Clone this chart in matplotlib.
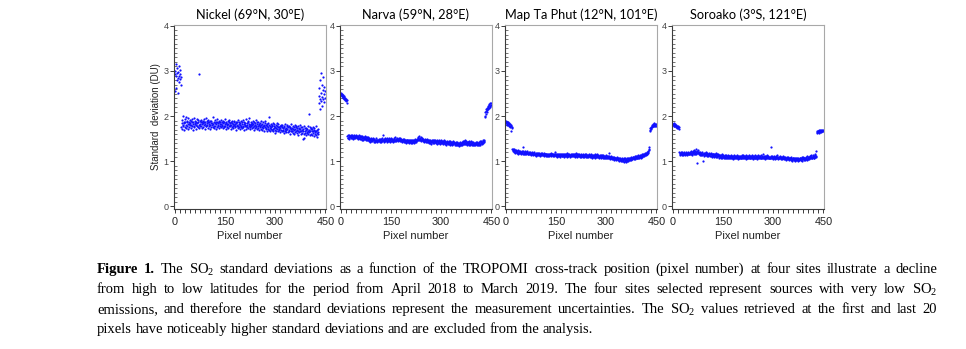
import numpy as np
import matplotlib
matplotlib.use("Agg")
import matplotlib.pyplot as plt
from matplotlib.ticker import MultipleLocator

plt.rcParams['mathtext.fontset'] = 'custom'
plt.rcParams['mathtext.rm'] = 'Liberation Serif'
plt.rcParams['mathtext.bf'] = 'Liberation Serif:bold'

# ---------------------------------------------------------------- data
sites = ["Nickel (69°N, 30°E)", "Narva (59°N, 28°E)",
         "Map Ta Phut (12°N, 101°E)", "Soroako (3°S, 121°E)"]
x_ticks = [0, 150, 300, 450]
y_ticks = [0, 1, 2, 3, 4]

# SO2 standard deviation per cross-track pixel 0..449, in units of 0.01 DU
nickel = [
    293, 255, 301, 288, 315, 262, 296, 279, 307, 284, 252, 298, 289, 311, 276, 303, 282, 294, 270, 287,
    176, 185, 172, 191, 180, 200, 178, 186, 169, 184, 193, 175, 188, 181, 197, 173, 186, 179, 190, 183,
    171, 195, 182, 187, 176, 192, 180, 185, 174, 189,
    181, 194, 177, 186, 170, 188, 183, 179, 196, 175, 185, 182, 190, 172, 187, 180, 193, 178, 184, 188,
    176, 191, 181, 293, 173, 189, 183, 179, 186, 192,
    178, 187, 182, 174, 190, 184, 176, 193, 180, 186, 171, 188, 183, 179, 195, 177, 185, 181, 189, 174,
    186, 192, 178, 183, 187, 172, 190, 181, 176, 184,
    189, 180, 185, 175, 198, 182, 177, 187, 173, 184, 191, 179, 186, 171, 183, 188, 176, 194, 181, 185,
    178, 190, 174, 186, 182, 179, 187, 175, 192, 183,
    177, 186, 181, 190, 173, 184, 179, 188, 175, 182, 193, 178, 185, 171, 187, 180, 183, 176, 189, 182,
    174, 186, 179, 191, 177, 184, 180, 172, 187, 181,
    185, 176, 189, 179, 183, 173, 190, 181, 186, 175, 182, 178, 188, 170, 184, 180, 177, 186, 174, 191,
    179, 183, 176, 187, 172, 181, 185, 178, 189, 175,
    182, 174, 186, 179, 191, 176, 183, 170, 188, 180, 177, 185, 172, 193, 179, 184, 175, 181, 189, 173,
    186, 178, 182, 195, 176, 180, 171, 187, 183, 177,
    185, 174, 180, 189, 176, 183, 170, 187, 179, 173, 184, 181, 192, 175, 178, 186, 171, 182, 177, 188,
    174, 180, 183, 169, 185, 178, 176, 190, 172, 181,
    176, 183, 170, 179, 186, 173, 181, 168, 177, 184, 175, 189, 171, 180, 174, 182, 166, 178, 185, 172,
    176, 198, 169, 181, 174, 179, 167, 183, 175, 171,
    180, 169, 177, 184, 172, 166, 179, 174, 183, 170, 176, 163, 181, 173, 168, 178, 185, 171, 175, 167,
    182, 169, 176, 172, 179, 164, 174, 180, 170, 177,
    168, 175, 181, 166, 173, 170, 178, 162, 176, 171, 167, 183, 174, 169, 165, 177, 172, 180, 164, 175,
    170, 167, 179, 173, 161, 176, 168, 182, 171, 166,
    174, 167, 179, 163, 171, 176, 160, 169, 181, 172, 165, 175, 168, 178, 162, 173, 170, 166, 177, 159,
    171, 174, 164, 180, 168, 172, 161, 176, 167, 170,
    163, 175, 149, 168, 171, 160, 177, 152, 166, 173, 162, 169, 158, 174, 165, 171, 163, 179, 167, 160,
    204, 170, 164, 176, 159, 168, 172, 161, 174, 166,
    171, 158, 166, 175, 162, 169, 155, 173, 164, 167, 160, 178, 157, 168, 163, 170, 153, 165, 172, 161,
    245, 228, 262, 238, 281, 216, 252, 295, 234, 270, 243, 223, 258, 239, 286, 248, 231, 265, 241, 255,
]

narva = [
    251, 247, 249, 244, 250, 245, 242, 247, 240, 244, 238, 243, 239, 236, 241, 235, 238, 233, 236, 229,
    155, 152, 157, 151, 154, 158, 150, 155, 153, 156, 152, 157, 154, 151, 155, 158, 153, 150, 156, 154,
    152, 157, 155, 151, 154, 156, 153, 158, 152, 155,
    153, 156, 150, 154, 152, 157, 151, 155, 149, 153, 156, 150, 154, 152, 148, 155, 151, 153, 147, 154,
    150, 152, 156, 149, 151, 153, 146, 150, 154, 148,
    151, 147, 153, 149, 145, 150, 152, 146, 149, 143, 151, 147, 145, 150, 148, 144, 152, 146, 149, 143,
    147, 150, 145, 148, 142, 146, 151, 144, 148, 146,
    143, 148, 145, 150, 144, 147, 142, 149, 146, 143, 150, 145, 148, 144, 151, 146, 158, 147, 143, 149,
    145, 152, 147, 144, 150, 146, 148, 143, 151, 145,
    149, 144, 147, 151, 145, 148, 143, 150, 146, 149, 144, 152, 147, 145, 150, 143, 148, 146, 151, 144,
    149, 147, 153, 145, 148, 144, 150, 146, 149, 152,
    147, 150, 145, 148, 152, 146, 149, 144, 151, 147, 145, 150, 143, 148, 146, 149, 144, 147, 142, 146,
    149, 143, 147, 145, 141, 148, 144, 146, 142, 147,
    143, 147, 144, 141, 146, 143, 148, 142, 145, 140, 147, 144, 142, 146, 141, 145, 143, 148, 140, 144,
    146, 142, 149, 145, 143, 147, 144, 150, 146, 148,
    151, 147, 153, 149, 155, 148, 152, 146, 150, 147, 153, 145, 149, 146, 151, 144, 148, 150, 145, 147,
    143, 149, 146, 144, 148, 142, 146, 149, 143, 147,
    145, 142, 147, 143, 140, 146, 144, 141, 148, 143, 145, 139, 146, 142, 144, 147, 141, 143, 145, 140,
    146, 142, 144, 148, 141, 145, 143, 139, 144, 146,
    142, 145, 140, 144, 141, 147, 143, 139, 145, 142, 146, 140, 143, 141, 145, 138, 144, 142, 140, 146,
    143, 139, 142, 145, 141, 137, 143, 140, 144, 141,
    139, 143, 140, 145, 138, 142, 141, 137, 144, 140, 142, 138, 143, 139, 136, 141, 144, 138, 140, 142,
    137, 141, 139, 143, 135, 140, 138, 142, 136, 139,
    141, 137, 140, 134, 139, 142, 136, 138, 141, 135, 139, 143, 137, 140, 138, 145, 142, 139, 144, 141,
    143, 138, 146, 140, 144, 139, 142, 137, 141, 143,
    139, 143, 137, 141, 145, 138, 142, 136, 140, 144, 138, 141, 137, 143, 139, 135, 142, 138, 140, 136,
    141, 139, 137, 143, 138, 140, 135, 139, 142, 137,
    140, 138, 143, 136, 141, 139, 144, 137, 142, 140, 145, 138, 143, 141, 146, 140, 144, 142, 147, 145,
    201, 208, 199, 212, 205, 215, 210, 218, 213, 222, 216, 220, 224, 218, 226, 221, 228, 223, 225, 229,
]

map_ta_phut = [
    190, 185, 188, 183, 187, 181, 186, 184, 180, 185, 182, 178, 183, 179, 176, 181, 167, 177, 174, 176,
    128, 125, 122, 127, 124, 121, 126, 123, 119, 125, 122, 120, 124, 118, 123, 121, 119, 124, 117, 122,
    120, 118, 123, 119, 121, 116, 120, 118, 122, 119,
    121, 117, 123, 131, 118, 120, 116, 122, 119, 117, 121, 115, 119, 122, 118, 120, 116, 119, 117, 121,
    115, 118, 120, 116, 119, 117, 114, 118, 121, 116,
    118, 115, 119, 113, 117, 116, 120, 114, 117, 115, 119, 112, 116, 118, 114, 117, 115, 119, 113, 116,
    118, 114, 117, 111, 115, 118, 113, 116, 119, 114,
    116, 113, 117, 114, 112, 118, 115, 113, 116, 111, 115, 117, 112, 114, 116, 113, 115, 111, 117, 114,
    112, 116, 113, 115, 118, 112, 114, 116, 113, 115,
    113, 116, 112, 114, 117, 111, 115, 113, 121, 114, 112, 116, 113, 110, 115, 112, 114, 117, 111, 113,
    115, 112, 116, 110, 114, 113, 117, 111, 115, 112,
    114, 111, 116, 113, 110, 115, 112, 117, 113, 111, 116, 114, 110, 113, 118, 112, 115, 111, 114, 113,
    116, 110, 114, 112, 117, 113, 111, 115, 112, 114,
    116, 112, 114, 111, 117, 113, 110, 115, 112, 118, 114, 111, 116, 113, 109, 114, 112, 115, 111, 113,
    116, 110, 114, 112, 109, 115, 113, 111, 114, 112,
    113, 110, 115, 112, 109, 114, 111, 116, 113, 110, 112, 115, 109, 113, 111, 114, 110, 112, 116, 111,
    113, 109, 114, 112, 110, 115, 111, 113, 108, 112,
    111, 114, 109, 113, 110, 112, 115, 108, 111, 113, 110, 114, 109, 112, 116, 110, 113, 111, 108, 112,
    110, 114, 109, 111, 113, 107, 112, 110, 114, 109,
    111, 108, 113, 110, 106, 112, 109, 111, 107, 110, 113, 108, 111, 109, 106, 112, 108, 110, 118, 107,
    111, 109, 105, 110, 108, 112, 106, 109, 107, 104,
    108, 105, 110, 106, 103, 109, 107, 104, 108, 105, 102, 107, 104, 109, 106, 103, 105, 108, 101, 106,
    104, 107, 102, 105, 103, 100, 106, 104, 101, 105,
    103, 100, 106, 99, 104, 102, 107, 101, 98, 105, 103, 100, 108, 102, 104, 101, 106, 103, 107, 104,
    102, 108, 105, 103, 109, 106, 104, 108, 105, 110,
    107, 110, 105, 109, 106, 111, 108, 104, 110, 107, 112, 108, 106, 111, 109, 107, 113, 110, 108, 112,
    109, 114, 111, 108, 113, 110, 115, 112, 109, 114,
    112, 116, 113, 111, 117, 114, 118, 115, 113, 119, 116, 120, 117, 115, 121, 119, 123, 127, 125, 132,
    170, 168, 174, 171, 176, 173, 178, 175, 180, 177, 182, 178, 184, 179, 181, 177, 183, 180, 178, 182,
]

soroako = [
    183, 180, 182, 178, 184, 179, 181, 177, 182, 176, 180, 178, 175, 179, 174, 177, 173, 176, 172, 175,
    121, 116, 119, 114, 118, 121, 115, 117, 113, 120, 116, 118, 114, 119, 116, 121, 115, 117, 113, 118,
    116, 120, 114, 117, 119, 115, 118, 121, 116, 119,
    117, 120, 115, 118, 122, 116, 119, 114, 121, 117, 120, 123, 118, 115, 121, 125, 119, 122, 117, 120,
    127, 116, 123, 119, 96, 121, 118, 124, 115, 120,
    118, 114, 117, 121, 115, 119, 113, 116, 120, 114, 100, 117, 115, 119, 112, 116, 118, 113, 117, 114,
    120, 115, 112, 116, 118, 113, 117, 111, 115, 119,
    114, 117, 112, 115, 118, 111, 116, 113, 110, 115, 117, 112, 114, 109, 116, 113, 111, 115, 118, 110,
    114, 112, 116, 109, 113, 111, 117, 112, 108, 114,
    112, 109, 114, 110, 113, 107, 111, 115, 108, 112, 110, 114, 106, 111, 109, 113, 107, 110, 112, 108,
    114, 109, 111, 106, 113, 110, 108, 112, 107, 111,
    109, 112, 107, 111, 108, 113, 106, 110, 112, 108, 111, 105, 109, 113, 107, 110, 108, 112, 106, 111,
    109, 107, 113, 110, 105, 109, 112, 108, 111, 107,
    110, 107, 112, 108, 111, 106, 113, 109, 107, 111, 114, 108, 110, 106, 112, 109, 107, 111, 105, 110,
    113, 108, 111, 107, 109, 112, 106, 110, 108, 113,
    108, 111, 106, 112, 109, 107, 114, 110, 108, 111, 105, 109, 112, 107, 110, 108, 113, 106, 111, 109,
    107, 112, 110, 105, 109, 113, 108, 111, 106, 110,
    112, 107, 110, 108, 113, 106, 109, 111, 107, 115, 108, 110, 106, 112, 109, 107, 111, 105, 109, 112,
    108, 106, 110, 113, 107, 109, 111, 106, 108, 110,
    107, 110, 108, 112, 106, 131, 109, 107, 111, 105, 108, 110, 106, 112, 109, 107, 104, 110, 108, 111,
    106, 109, 107, 113, 105, 108, 110, 106, 109, 107,
    109, 106, 111, 107, 104, 110, 108, 105, 109, 112, 106, 108, 104, 110, 107, 105, 109, 106, 103, 108,
    110, 105, 107, 104, 109, 106, 102, 108, 105, 107,
    104, 107, 102, 106, 109, 103, 105, 101, 107, 104, 106, 102, 108, 105, 103, 100, 106, 104, 107, 102,
    105, 103, 108, 101, 104, 106, 102, 105, 103, 107,
    104, 108, 102, 106, 103, 109, 105, 101, 107, 104, 110, 106, 103, 108, 105, 102, 107, 104, 109, 106,
    103, 111, 105, 108, 104, 110, 106, 109, 105, 112,
    107, 111, 106, 109, 113, 108, 110, 106, 112, 109, 114, 107, 111, 108, 115, 110, 113, 109, 122, 112,
    162, 166, 164, 168, 165, 167, 163, 169, 166, 168, 164, 170, 167, 165, 169, 166, 168, 170, 167, 169,
]

series = [nickel, narva, map_ta_phut, soroako]
pixels = np.arange(len(nickel))

caption_lines = [
    ["**Figure", "**1.", "The", "SO$_\\mathrm{2}$", "standard", "deviations", "as", "a", "function",
     "of", "the", "TROPOMI", "cross-track", "position", "(pixel", "number)", "at", "four", "sites",
     "illustrate", "a", "decline"],
    ["from", "high", "to", "low", "latitudes", "for", "the", "period", "from", "April", "2018", "to",
     "March", "2019.", "The", "four", "sites", "selected", "represent", "sources", "with", "very",
     "low", "SO$_\\mathrm{2}$"],
    ["emissions,", "and", "therefore", "the", "standard", "deviations", "represent", "the",
     "measurement", "uncertainties.", "The", "SO$_\\mathrm{2}$", "values", "retrieved", "at", "the",
     "first", "and", "last", "20"],
    ["pixels", "have", "noticeably", "higher", "standard", "deviations", "and", "are", "excluded",
     "from", "the", "analysis."],
]

# ---------------------------------------------------------------- figure
W, H = 966, 349
fig = plt.figure(figsize=(W / 100, H / 100), dpi=100)
fig.patch.set_facecolor("white")

panel_left = [174, 340, 505, 672]
panel_w = 152
panel_top, panel_bottom = 25, 209

dark = "#3c3c3c"
grey = "#a8a8a8"

for i, (name, vals) in enumerate(zip(sites, series)):
    ax = fig.add_axes([panel_left[i] / W, 1 - panel_bottom / H,
                       panel_w / W, (panel_bottom - panel_top) / H])
    ax.plot(pixels, np.array(vals) / 100.0, linestyle="none", marker="o",
            markersize=1.6, markeredgewidth=0, color="#1010ff")
    ax.set_xlim(-2, 452)
    ax.set_ylim(-0.06, 4.02)
    ax.set_xticks(x_ticks)
    ax.set_yticks(y_ticks)
    ax.xaxis.set_minor_locator(MultipleLocator(15))
    ax.yaxis.set_minor_locator(MultipleLocator(0.1))
    ax.tick_params(axis="x", which="both", direction="out", length=3, width=0.7,
                   color=dark, labelsize=7.8, labelcolor="#222222", pad=2.5)
    ax.tick_params(axis="y", which="major", direction="out", length=3, width=0.7,
                   color=dark, labelsize=6.5, labelcolor="#444444", pad=1)
    ax.tick_params(axis="y", which="minor", direction="in", length=2, width=0.5, color=dark)
    for t in ax.get_xticklabels() + ax.get_yticklabels():
        t.set_family("Liberation Sans")
    for side in ("left", "bottom"):
        ax.spines[side].set_color(dark)
        ax.spines[side].set_linewidth(0.8)
    for side in ("top", "right"):
        ax.spines[side].set_color(grey)
        ax.spines[side].set_linewidth(0.8)
    ax.set_title(name, fontsize=9.2, family="Lato", pad=4, color="black")
    ax.set_xlabel("Pixel number", fontsize=8, family="Liberation Sans", labelpad=3,
                  color="#222222")
    if i == 0:
        ax.set_ylabel("Standard  deviation (DU)", fontsize=7, family="Liberation Sans",
                      labelpad=2, color="#222222")

# ---------------------------------------------------------------- caption (justified)
renderer = fig.canvas.get_renderer()
cap_left, cap_right = 97, 937
baselines = [273, 293, 313, 333]
cap_size = 10.5


def make_word(word, x):
    bold = word.startswith("**")
    txt = word[2:] if bold else word
    return fig.text(x / W, 0, txt, fontsize=cap_size, family="Liberation Serif",
                    fontweight="bold" if bold else "normal", va="baseline", ha="left")


space = make_word("a a", 0).get_window_extent(renderer).width - \
        make_word("aa", 0).get_window_extent(renderer).width
for t in list(fig.texts):
    t.remove()

for li, words in enumerate(caption_lines):
    objs = [make_word(w, 0) for w in words]
    widths = [o.get_window_extent(renderer).width for o in objs]
    last = li == len(caption_lines) - 1
    if last:
        gap = space
    else:
        gap = (cap_right - cap_left - sum(widths)) / (len(words) - 1)
    x = cap_left
    y = 1 - baselines[li] / H
    for o, w in zip(objs, widths):
        o.set_position((x / W, y))
        x += w + gap

fig.savefig("out.png", dpi=100, facecolor="white")
